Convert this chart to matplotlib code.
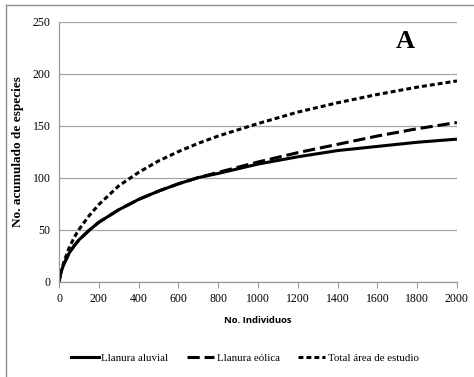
import matplotlib
matplotlib.use("Agg")
import matplotlib.pyplot as plt
from matplotlib.lines import Line2D

individuos = [0, 10, 25, 50, 75, 100, 150, 200, 300, 400, 500, 600, 700, 800,
              1000, 1200, 1400, 1600, 1800, 2000]
llanura_aluvial = [0, 9, 17, 27, 34, 40, 49, 57, 69, 79, 87, 94, 100, 104,
                   113, 120, 126, 130, 134, 137]
llanura_eolica = [0, 9, 17, 27, 34, 40, 49, 57, 69, 79, 87, 94, 100, 105,
                  115, 124, 132, 140, 147, 153]
total_area = [0, 10, 19, 32, 42, 50, 63, 74, 92, 105, 116, 125, 133, 140,
              152, 163, 172, 180, 187, 193]

x_ticks = [0, 200, 400, 600, 800, 1000, 1200, 1400, 1600, 1800, 2000]
y_ticks = [0, 50, 100, 150, 200, 250]
series_names = ["Llanura aluvial", "Llanura eólica", "Total área de estudio"]

serif = "Liberation Serif"
fig = plt.figure(figsize=(4.74, 3.77), dpi=100)
ax = fig.add_axes([0.1245, 0.2533, 0.8395, 0.6891])

lw = 2.2
ax.plot(individuos, llanura_aluvial, color="black", lw=lw, solid_capstyle="butt")
ax.plot(individuos, llanura_eolica, color="black", lw=lw, dashes=(4, 1.6))
ax.plot(individuos, total_area, color="black", lw=lw, dashes=(1.6, 1.0))

ax.set_xlim(0, 2000)
ax.set_ylim(0, 250)
ax.set_xticks(x_ticks)
ax.set_yticks(y_ticks)
ax.set_xticklabels([str(v) for v in x_ticks], fontfamily=serif, fontsize=8.5)
ax.set_yticklabels([str(v) for v in y_ticks], fontfamily=serif, fontsize=8.5)
ax.tick_params(axis="x", direction="out", length=4, color="#999999", width=0.8, pad=4)
ax.tick_params(axis="y", length=0, pad=6)
ax.yaxis.grid(True, color="#a6a6a6", lw=0.9)
ax.set_axisbelow(True)
for s in ["top", "right"]:
    ax.spines[s].set_visible(False)
for s in ["left", "bottom"]:
    ax.spines[s].set_color("#999999")
    ax.spines[s].set_linewidth(0.9)

ax.set_ylabel("No. acumulado de especies", fontfamily=serif, fontweight="bold",
              fontsize=9.5, labelpad=6)
ax.set_xlabel("No. Individuos", fontfamily="Open Sans", fontweight="bold",
              fontsize=6.8, labelpad=8)

ax.text(0.87, 0.925, "A", transform=ax.transAxes, fontfamily=serif,
        fontweight="bold", fontsize=19, ha="center", va="center")

handles = [
    Line2D([], [], color="black", lw=lw),
    Line2D([], [], color="black", lw=lw, dashes=(4, 1.6)),
    Line2D([], [], color="black", lw=lw, dashes=(1.6, 1.0)),
]
fig.legend(handles, series_names, loc="center", bbox_to_anchor=(0.517, 0.05),
           ncol=3, frameon=False, prop={"family": serif, "size": 7.8},
           handlelength=2.5, handletextpad=0.25, columnspacing=1.7)

# figure border (top and left visible)
fig.add_artist(Line2D([6 / 474, 6 / 474], [0, 1 - 5 / 377], transform=fig.transFigure,
                      color="#8c8c8c", lw=1.0))
fig.add_artist(Line2D([6 / 474, 1], [1 - 5 / 377, 1 - 5 / 377], transform=fig.transFigure,
                      color="#8c8c8c", lw=1.0))

fig.savefig("out.png", dpi=100)
